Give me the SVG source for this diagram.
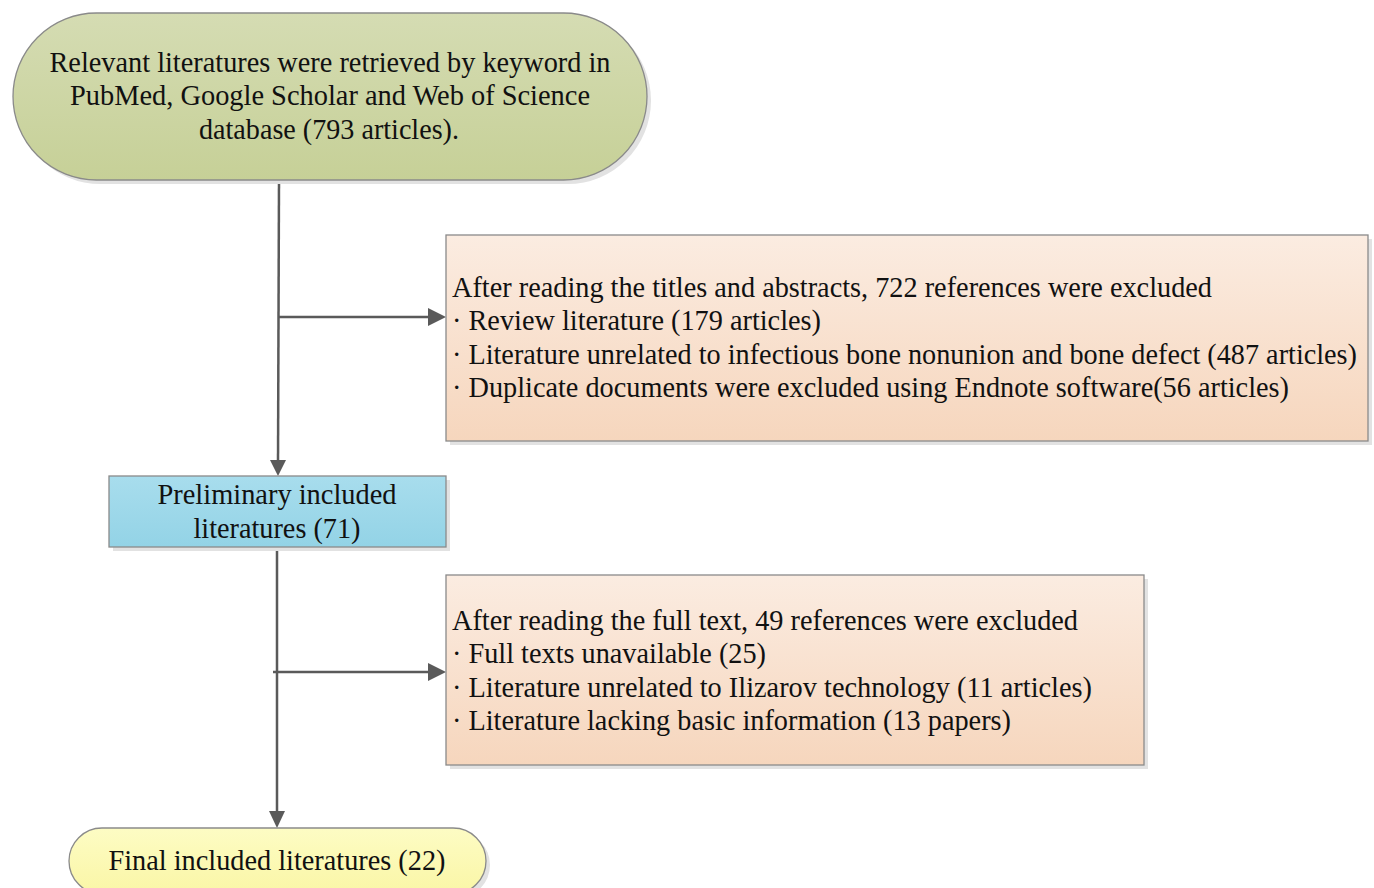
<svg xmlns="http://www.w3.org/2000/svg" width="1374" height="888" viewBox="0 0 1374 888">
<style>
.t{font-family:"Liberation Serif","Times New Roman",serif;font-size:29px;fill:#111;}
.c{text-anchor:middle;}
.box{stroke:#8a8a8a;stroke-width:1.3;}
.sh{fill:#e2e2e2;}
.ln{stroke:#5a5a5a;stroke-width:2.5;fill:none;}
</style>
<defs>
<linearGradient id="gG" x1="0" y1="0" x2="0" y2="1"><stop offset="0" stop-color="#d5dcb3"/><stop offset="1" stop-color="#c6d097"/></linearGradient>
<linearGradient id="gO" x1="0" y1="0" x2="0" y2="1"><stop offset="0" stop-color="#fbece1"/><stop offset="1" stop-color="#f6d6bd"/></linearGradient>
<linearGradient id="gB" x1="0" y1="0" x2="0" y2="1"><stop offset="0" stop-color="#a8dded"/><stop offset="1" stop-color="#93d3e6"/></linearGradient>
<linearGradient id="gY" x1="0" y1="0" x2="0" y2="1"><stop offset="0" stop-color="#fdfcc4"/><stop offset="1" stop-color="#faf6a6"/></linearGradient>
</defs>
<rect width="1374" height="888" fill="#fff"/>
<g id="connectors">
<line class="ln" x1="279" y1="180" x2="278" y2="462"/>
<path d="M270,460 L286,460 L278,476 z" fill="#5a5a5a"/>
<line class="ln" x1="279" y1="317" x2="430" y2="317"/>
<path d="M428,308 L446,317 L428,326 z" fill="#5a5a5a"/>
<line class="ln" x1="277" y1="547" x2="277" y2="812"/>
<path d="M269,811 L285,811 L277,828 z" fill="#5a5a5a"/>
<line class="ln" x1="273" y1="672" x2="430" y2="672"/>
<path d="M428,663 L446,672 L428,681 z" fill="#5a5a5a"/>
</g>
<g id="start">
<rect class="sh" x="17" y="17" width="634" height="167" rx="83.5"/>
<rect class="box" x="13" y="13" width="634" height="167" rx="83.5" fill="url(#gG)"/>
<text class="t c" x="330" y="72" textLength="561" lengthAdjust="spacingAndGlyphs">Relevant literatures were retrieved by keyword in</text>
<text class="t c" x="330" y="105" textLength="520" lengthAdjust="spacingAndGlyphs">PubMed, Google Scholar and Web of Science</text>
<text class="t c" x="329" y="139" textLength="260" lengthAdjust="spacingAndGlyphs">database (793 articles).</text>
</g>
<g id="exclude1">
<rect class="sh" x="450" y="239" width="922" height="206"/>
<rect class="box" x="446" y="235" width="922" height="206" fill="url(#gO)"/>
<text class="t" x="452" y="297" textLength="760" lengthAdjust="spacingAndGlyphs">After reading the titles and abstracts, 722 references were excluded</text>
<text class="t" x="452" y="330" textLength="369" lengthAdjust="spacingAndGlyphs">· Review literature (179 articles)</text>
<text class="t" x="452" y="364" textLength="905" lengthAdjust="spacingAndGlyphs">· Literature unrelated to infectious bone nonunion and bone defect (487 articles)</text>
<text class="t" x="452" y="397" textLength="837" lengthAdjust="spacingAndGlyphs">· Duplicate documents were excluded using Endnote software(56 articles)</text>
</g>
<g id="preliminary">
<rect class="sh" x="113" y="480" width="337" height="71"/>
<rect class="box" x="109" y="476" width="337" height="71" fill="url(#gB)"/>
<text class="t c" x="277" y="504" textLength="239" lengthAdjust="spacingAndGlyphs">Preliminary included</text>
<text class="t c" x="277" y="538" textLength="167" lengthAdjust="spacingAndGlyphs">literatures (71)</text>
</g>
<g id="exclude2">
<rect class="sh" x="450" y="579" width="698" height="190"/>
<rect class="box" x="446" y="575" width="698" height="190" fill="url(#gO)"/>
<text class="t" x="452" y="630" textLength="626" lengthAdjust="spacingAndGlyphs">After reading the full text, 49 references were excluded</text>
<text class="t" x="452" y="663" textLength="314" lengthAdjust="spacingAndGlyphs">· Full texts unavailable (25)</text>
<text class="t" x="452" y="697" textLength="640" lengthAdjust="spacingAndGlyphs">· Literature unrelated to Ilizarov technology (11 articles)</text>
<text class="t" x="452" y="730" textLength="559" lengthAdjust="spacingAndGlyphs">· Literature lacking basic information (13 papers)</text>
</g>
<g id="final">
<rect class="sh" x="73" y="832" width="417" height="66" rx="33"/>
<rect class="box" x="69" y="828" width="417" height="66" rx="33" fill="url(#gY)"/>
<text class="t c" x="277" y="870" textLength="337" lengthAdjust="spacingAndGlyphs">Final included literatures (22)</text>
</g>
</svg>
